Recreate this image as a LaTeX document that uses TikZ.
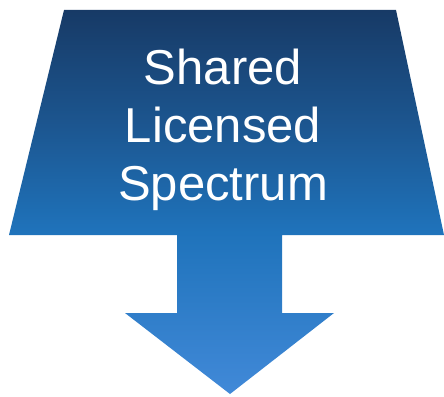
\documentclass[tikz,border=0pt]{standalone}
\usepackage{fontspec}
\setmainfont{Liberation Sans}
\usetikzlibrary{positioning}

\definecolor{topblue}{HTML}{173A66}
\definecolor{midblue}{HTML}{1C5690}
\definecolor{lowblue}{HTML}{1F73BB}
\definecolor{tipblue}{HTML}{4189D8}
% colours run from the arrow tip (25bp) up to the top edge (75bp)
\pgfdeclareverticalshading{funnelshade}{100bp}{%
  color(0bp)=(tipblue); color(25bp)=(tipblue); color(46bp)=(lowblue);
  color(60bp)=(midblue); color(75bp)=(topblue); color(100bp)=(topblue)}

\begin{document}
\begin{tikzpicture}[x=1pt, y=-1pt,
  funnel/.style={shading=funnelshade, draw=none},
  label/.style={text=white, align=center, inner sep=0pt, font=\fontsize{49}{58}\selectfont}]
  \useasboundingbox (0,0) rectangle (444,396);
  % outline of the funnel arrow
  \coordinate (tl) at (64,10);
  \coordinate (tr) at (396,10);
  \coordinate (br) at (444,235);
  \coordinate (bl) at (9,235);
  \coordinate (tip) at (230,394);
  \path[funnel] (tl) -- (tr) -- (br) -- (282,235) -- (282,313) -- (334,313)
    -- (tip) -- (125,313) -- (177,313) -- (177,235) -- (bl) -- cycle;
  \node[label, anchor=north] (title) at (223,49) {Shared\\Licensed\\Spectrum};
\end{tikzpicture}
\end{document}
